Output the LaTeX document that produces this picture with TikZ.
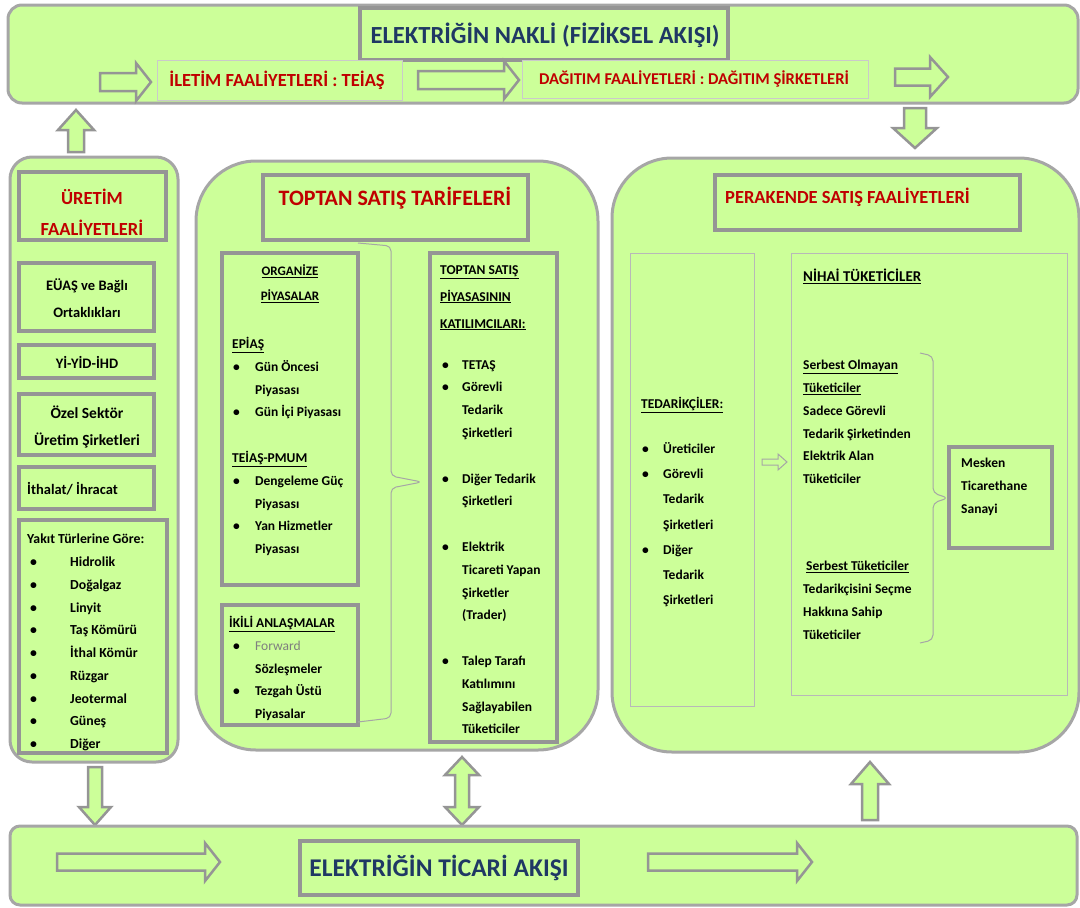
\documentclass[tikz,border=0pt]{standalone}
\usepackage{fontspec}
\setmainfont{Carlito}
\definecolor{lg}{HTML}{CCFF99}
\definecolor{bd}{HTML}{A6A6A6}
\definecolor{bx}{HTML}{959595}
\definecolor{rd}{HTML}{C00000}
\definecolor{nv}{HTML}{1F3864}
\definecolor{fw}{HTML}{7F7F7F}
\newcommand\RArr[6]{\draw[barrow] ({#1},{#3-#4}) -- ({#2-#6},{#3-#4}) -- ({#2-#6},{#3-#5}) -- ({#2},{#3}) -- ({#2-#6},{#3+#5}) -- ({#2-#6},{#3+#4}) -- ({#1},{#3+#4}) -- cycle;}
\newcommand\UArr[6]{\draw[barrow] ({#1-#4},{#3}) -- ({#1-#4},{#2+#6}) -- ({#1-#5},{#2+#6}) -- ({#1},{#2}) -- ({#1+#5},{#2+#6}) -- ({#1+#4},{#2+#6}) -- ({#1+#4},{#3}) -- cycle;}
\newcommand\DArr[6]{\draw[barrow] ({#1-#4},{#2}) -- ({#1-#4},{#3-#6}) -- ({#1-#5},{#3-#6}) -- ({#1},{#3}) -- ({#1+#5},{#3-#6}) -- ({#1+#4},{#3-#6}) -- ({#1+#4},{#2}) -- cycle;}
\newcommand\VDArr[6]{\draw[barrow] ({#1-#4},{#2+#6}) -- ({#1-#5},{#2+#6}) -- ({#1},{#2}) -- ({#1+#5},{#2+#6}) -- ({#1+#4},{#2+#6}) -- ({#1+#4},{#3-#6}) -- ({#1+#5},{#3-#6}) -- ({#1},{#3}) -- ({#1-#5},{#3-#6}) -- ({#1-#4},{#3-#6}) -- cycle;}
\newcommand\Bul[1]{\makebox[#1][l]{\textbullet}}
\newcommand\Ind[1]{\hspace*{#1}}
\tikzset{
  panel/.style={fill=lg, draw=bd, line width=3pt},
  boxthick/.style={fill=lg, draw=bx, line width=3.5pt},
  boxthin/.style={fill=lg, draw=bd!80, line width=0.8pt},
  barrow/.style={fill=lg, draw=bx, line width=2.5pt, line join=miter},
  smallarrow/.style={fill=lg, draw=bd, line width=1pt},
  bracel/.style={draw=bd, line width=1pt, rounded corners=5pt},
  txt/.style={inner sep=0pt, text=black, font=\bfseries\fontsize{13.5}{22.8}\selectfont, align=left, anchor=north west},
  ctxt/.style={inner sep=0pt, text=black, font=\bfseries\fontsize{14.5}{26.5}\selectfont, align=center},
  redt/.style={inner sep=0pt, text=rd, font=\bfseries\fontsize{#1}{#1}\selectfont},
  navyt/.style={inner sep=0pt, text=nv, font=\bfseries\fontsize{#1}{#1}\selectfont}
}
\begin{document}
\begin{tikzpicture}[x=1pt,y=-1pt]
\useasboundingbox (0,0) rectangle (1080,908);
% ---------- top band ----------
\draw[panel, rounded corners=14pt] (8,5) rectangle (1078,103);
\draw[boxthick] (360,8) rectangle (728,60);
\node[navyt=24.6] (nakli) at (545,35) {ELEKTRİĞİN NAKLİ (FİZİKSEL AKIŞI)};
\draw[boxthin, draw=bd!60] (157,60) rectangle (402,100);
\node[redt=18.5] (iletim) at (277,80) {İLETİM FAALİYETLERİ : TEİAŞ};
\draw[boxthin, draw=bd!60] (522,60) rectangle (868,98);
\node[redt=16.5] (dagitim) at (694,79) {DAĞITIM FAALİYETLERİ : DAĞITIM ŞİRKETLERİ};
\RArr{100}{151}{82}{9}{19}{15}
\RArr{418}{519}{80}{9}{19}{15}
\RArr{895}{948}{77}{8.5}{20}{18}
\UArr{76}{110}{152}{8}{18}{20}
\DArr{915}{108}{148}{11}{22}{20}
% ---------- left panel ----------
\draw[panel, rounded corners=22pt] (10,157) rectangle (178,762);
\draw[boxthick] (19,172) rectangle (166,240);
\node[redt=18, align=center, font=\bfseries\fontsize{18.5}{31}\selectfont] (uretim) at (92,212) {ÜRETİM\\FAALİYETLERİ};
\draw[boxthick] (19,263) rectangle (154,331);
\node[ctxt] (euas) at (87,298) {EÜAŞ ve Bağlı\\Ortaklıkları};
\draw[boxthick] (19,345) rectangle (154,378);
\node[ctxt] (yi) at (87,362) {Yİ-YİD-İHD};
\draw[boxthick] (19,394) rectangle (154,455);
\node[ctxt, font=\bfseries\fontsize{15.5}{27}\selectfont] (ozel) at (87,427) {Özel Sektör\\Üretim Şirketleri};
\draw[boxthick] (19,467) rectangle (154,509);
\node[ctxt, anchor=west] (ithalat) at (27,489) {İthalat/ İhracat};
\draw[boxthick] (19,520) rectangle (167,753);
\node[txt, font=\bfseries\fontsize{13.8}{22.75}\selectfont] (yakit) at (27,534) {Yakıt Türlerine Göre:\\
\Ind{3pt}\Bul{40pt}Hidrolik\\
\Ind{3pt}\Bul{40pt}Doğalgaz\\
\Ind{3pt}\Bul{40pt}Linyit\\
\Ind{3pt}\Bul{40pt}Taş Kömürü\\
\Ind{3pt}\Bul{40pt}İthal Kömür\\
\Ind{3pt}\Bul{40pt}Rüzgar\\
\Ind{3pt}\Bul{40pt}Jeotermal\\
\Ind{3pt}\Bul{40pt}Güneş\\
\Ind{3pt}\Bul{40pt}Diğer};
% ---------- middle panel ----------
\draw[panel, rounded corners=60pt] (196,161) rectangle (598,750);
\draw[boxthick] (263,175) rectangle (528,240);
\node[redt=22] (toptan) at (395,198) {TOPTAN SATIŞ TARİFELERİ};
\draw[boxthick] (222,253) rectangle (358,585);
\node[txt, align=center, anchor=center, font=\bfseries\fontsize{13}{25}\selectfont] (organize) at (290,284) {\underline{ORGANİZE}\\\underline{PİYASALAR}};
\node[txt] (epias) at (232,337) {\underline{EPİAŞ}\\
\Ind{1pt}\Bul{22pt}Gün Öncesi\\
\Ind{23pt}Piyasası\\
\Ind{1pt}\Bul{22pt}Gün İçi Piyasası\\[22.8pt]
\underline{TEİAŞ-PMUM}\\
\Ind{1pt}\Bul{22pt}Dengeleme Güç\\
\Ind{23pt}Piyasası\\
\Ind{1pt}\Bul{22pt}Yan Hizmetler\\
\Ind{23pt}Piyasası};
\draw[boxthick] (222,605) rectangle (358,725);
\node[txt] (ikili) at (229,616) {\underline{İKİLİ ANLAŞMALAR}\\
\Ind{4pt}\Bul{22pt}{\mdseries\color{fw}Forward}\\
\Ind{26pt}Sözleşmeler\\
\Ind{4pt}\Bul{22pt}Tezgah Üstü\\
\Ind{26pt}Piyasalar};
\draw[bracel] (358,243) -- (391,246) -- (391,476) -- (422,482) -- (391,488) -- (391,718) -- (358,722);
\draw[boxthick] (430,253) rectangle (557,742);
\node[txt, font=\bfseries\fontsize{13.5}{27}\selectfont] (katil) at (440,265) {\underline{TOPTAN SATIŞ}\\\underline{PİYASASININ}\\\underline{KATILIMCILARI:}};
\node[txt] (katlist) at (440,360) {\Ind{2pt}\Bul{20pt}TETAŞ\\
\Ind{2pt}\Bul{20pt}Görevli\\
\Ind{22pt}Tedarik\\
\Ind{22pt}Şirketleri\\[22.8pt]
\Ind{2pt}\Bul{20pt}Diğer Tedarik\\
\Ind{22pt}Şirketleri\\[22.8pt]
\Ind{2pt}\Bul{20pt}Elektrik\\
\Ind{22pt}Ticareti Yapan\\
\Ind{22pt}Şirketler\\
\Ind{22pt}(Trader)\\[22.8pt]
\Ind{2pt}\Bul{20pt}Talep Tarafı\\
\Ind{22pt}Katılımını\\
\Ind{22pt}Sağlayabilen\\
\Ind{22pt}Tüketiciler};
% ---------- right panel ----------
\draw[panel, rounded corners=60pt] (612,158) rectangle (1079,752);
\draw[boxthick] (715,175) rectangle (1020,230);
\node[redt=18.5, anchor=west] (perakende) at (725,197) {PERAKENDE SATIŞ FAALİYETLERİ};
\draw[boxthin] (630,253) rectangle (754,706);
\node[txt, anchor=west] (tedarikci) at (641,405) {\underline{TEDARİKÇİLER:}};
\node[txt, font=\bfseries\fontsize{13.5}{25.3}\selectfont] (tedlist) at (641,442) {\Ind{1pt}\Bul{21pt}Üreticiler\\
\Ind{1pt}\Bul{21pt}Görevli\\
\Ind{22pt}Tedarik\\
\Ind{22pt}Şirketleri\\
\Ind{1pt}\Bul{21pt}Diğer\\
\Ind{22pt}Tedarik\\
\Ind{22pt}Şirketleri};
\draw[smallarrow] (762,459) -- (778,459) -- (778,454) -- (787,462) -- (778,470) -- (778,465) -- (762,465) -- cycle;
\draw[boxthin] (791,253) rectangle (1067,695);
\node[txt, anchor=west, font=\bfseries\fontsize{15}{15}\selectfont] (nihai) at (803,276) {\underline{NİHAİ TÜKETİCİLER}};
\node[txt] (serbol) at (803,360) {\underline{Serbest Olmayan}\\
\underline{Tüketiciler}\\
Sadece Görevli\\
Tedarik Şirketinden\\
Elektrik Alan\\
Tüketiciler};
\node[txt] (serb) at (803,561) {\Ind{3pt}\underline{Serbest Tüketiciler}\\
Tedarikçisini Seçme\\
Hakkına Sahip\\
Tüketiciler};
\draw[bracel] (920,353) -- (933,356) -- (933,493) -- (948,498) -- (933,503) -- (933,640) -- (920,643);
\draw[boxthick] (949,447) rectangle (1052,548);
\node[txt] (mesken) at (961,458) {Mesken\\Ticarethane\\Sanayi};
% ---------- bottom ----------
\DArr{95}{767}{825}{7}{16}{18}
\VDArr{462}{757}{825}{7}{17}{18}
\UArr{870}{762}{820}{8}{19}{22}
\draw[panel, rounded corners=10pt] (10,826) rectangle (1077,905);
\RArr{57}{220}{862}{8.5}{19}{15}
\RArr{648}{812}{862}{8.5}{19}{15}
\draw[boxthick] (300,841) rectangle (578,895);
\node[navyt=25.5] (ticari) at (439,868) {ELEKTRİĞİN TİCARİ AKIŞI};
\end{tikzpicture}
\end{document}
